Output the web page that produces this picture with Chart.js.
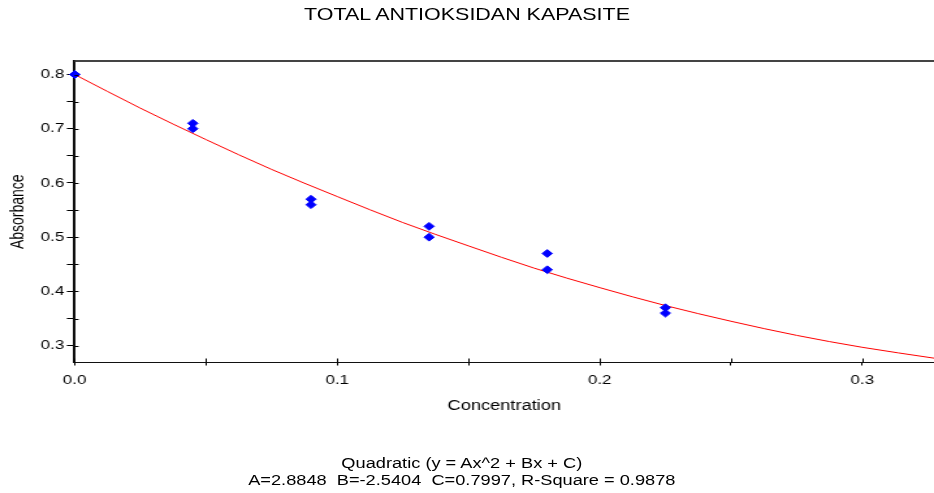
<!DOCTYPE html>
<html><head><meta charset="utf-8">
<script src="https://cdn.jsdelivr.net/npm/chart.js@4.4.1/dist/chart.umd.min.js"></script>
<style>
html,body{margin:0;padding:0;background:#fff;overflow:hidden;width:934px;height:493px;}
#wrap{position:absolute;left:0;top:0;width:718px;height:493px;transform:scaleX(1.300836);transform-origin:0 0;}
#c{position:absolute;left:0;top:0;}
.t{position:absolute;left:0;width:718px;text-align:center;font-family:"Liberation Sans",Arial,sans-serif;color:#000;white-space:pre;}
#title{top:6px;font-size:16.5px;line-height:16.5px;}
#foot{top:455px;left:-4px;font-size:14px;line-height:17px;}
</style></head><body>
<div id="wrap">
<div class="t" id="title">TOTAL ANTIOKSIDAN KAPASITE</div>
<canvas id="c" width="718" height="493"></canvas>
<div class="t" id="foot">Quadratic (y = Ax^2 + Bx + C)
A=2.8848  B=-2.5404  C=0.7997, R-Square = 0.9878</div>
</div>
<script>
const concentration = [0, 0, 0.045, 0.045, 0.09, 0.09, 0.135, 0.135, 0.18, 0.18, 0.225, 0.225];
const absorbance    = [0.80, 0.80, 0.71, 0.70, 0.57, 0.56, 0.52, 0.50, 0.47, 0.44, 0.37, 0.36];
// fitted red curve
const fitX = [0, 0.025, 0.05, 0.075, 0.1, 0.125, 0.15, 0.175, 0.2, 0.225, 0.25, 0.275, 0.3, 0.3273];
const fitY = [0.800, 0.738, 0.680, 0.625, 0.575, 0.527, 0.484, 0.443, 0.407, 0.374, 0.345, 0.319, 0.297, 0.277];
// tick labels
const xMajorTicks = [0, 0.1, 0.2, 0.3];
const xTickLabels = ['0.0', '0.1', '0.2', '0.3'];
const yMajorTicks = [0.3, 0.4, 0.5, 0.6, 0.7, 0.8];
const yTickLabels = ['0.3', '0.4', '0.5', '0.6', '0.7', '0.8'];
const xTitle = 'Concentration';
const yTitle = 'Absorbance';

function labelFor(v, majors, labels) {
  for (let i = 0; i < majors.length; i++) if (Math.abs(v - majors[i]) < 1e-6) return labels[i];
  return '';
}

const FONT = '"Liberation Sans", Arial, sans-serif';
Chart.defaults.font.family = FONT;
Chart.defaults.color = '#000';

const frame = {
  id: 'frame',
  afterDraw(chart) {
    const {ctx, chartArea: a, scales} = chart;
    ctx.save();
    // top border
    ctx.strokeStyle = '#444';
    ctx.lineWidth = 2;
    ctx.beginPath();
    ctx.moveTo(a.left, a.top);
    ctx.lineTo(chart.width, a.top);
    ctx.stroke();
    // inner parts of tick marks
    ctx.strokeStyle = '#000';
    ctx.lineWidth = 1;
    ctx.beginPath();
    scales.y.ticks.forEach(t => {
      const py = Math.round(scales.y.getPixelForValue(t.value)) + 0.5;
      ctx.moveTo(a.left, py); ctx.lineTo(a.left + 3, py);
    });
    scales.x.ticks.forEach(t => {
      const px = Math.round(scales.x.getPixelForValue(t.value)) + 0.5;
      ctx.moveTo(px, a.bottom); ctx.lineTo(px, a.bottom - 4);
    });
    ctx.stroke();
    ctx.restore();
  }
};

new Chart(document.getElementById('c'), {
  type: 'scatter',
  data: {
    datasets: [
      {
        label: 'Samples',
        data: concentration.map((x, i) => ({x, y: absorbance[i]})),
        pointStyle: 'rectRot',
        pointRadius: 3.9,
        backgroundColor: '#0000ff',
        borderColor: '#0000ff',
        borderWidth: 1,
        clip: false,
        showLine: false
      },
      {
        label: 'Fit',
        data: fitX.map((x, i) => ({x, y: fitY[i]})),
        showLine: true,
        pointRadius: 0,
        borderColor: '#ff0000',
        borderWidth: 1,
        cubicInterpolationMode: 'monotone',
        fill: false
      }
    ]
  },
  options: {
    responsive: false,
    animation: false,
    devicePixelRatio: 1,
    layout: {autoPadding: false, padding: {top: 61, bottom: 75.5, left: 0, right: 0}},
    plugins: {legend: {display: false}, tooltip: {enabled: false}, title: {display: false}},
    scales: {
      x: {
        type: 'linear',
        min: 0, max: 0.3273,
        afterFit(s) { s.height = 55; s.paddingLeft = 0; s.paddingRight = 0; },
        border: {display: true, color: '#111', width: 1},
        grid: {display: true, drawOnChartArea: false, drawTicks: true, tickLength: 3, color: '#000', tickColor: '#000'},
        ticks: {stepSize: 0.05, includeBounds: false, padding: 7, maxRotation: 0, autoSkip: false,
                font: {size: 13, family: FONT}, color: '#000',
                callback: v => labelFor(v, xMajorTicks, xTickLabels)},
        title: {display: true, text: xTitle, font: {size: 14, family: FONT}, color: '#000', padding: {top: 0, bottom: 2.6}}
      },
      y: {
        type: 'linear',
        min: 0.269, max: 0.8249,
        afterFit(s) { s.width = 57.4; s.paddingTop = 0; s.paddingBottom = 0; },
        border: {display: true, color: '#111', width: 2},
        grid: {display: true, drawOnChartArea: false, drawTicks: true, tickLength: 6, color: '#000', tickColor: '#000'},
        ticks: {stepSize: 0.05, includeBounds: false, padding: 2, autoSkip: false,
                font: {size: 13, family: FONT}, color: '#000',
                callback: v => labelFor(v, yMajorTicks, yTickLabels)},
        title: {display: true, text: yTitle, font: {size: 14, family: FONT}, color: '#000', padding: {top: 6.2, bottom: 0}}
      }
    }
  },
  plugins: [frame]
});
</script>
</body></html>
